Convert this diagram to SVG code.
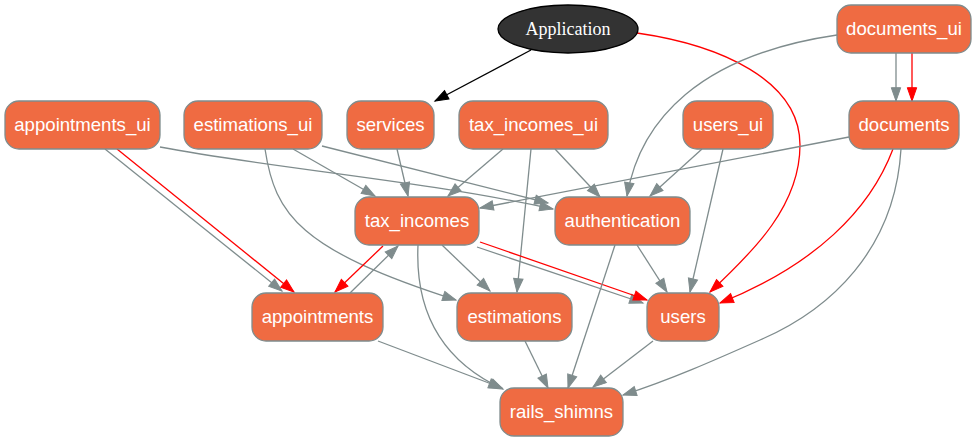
<svg xmlns="http://www.w3.org/2000/svg" width="977" height="443" viewBox="0 0 977 443">
<style>
.n rect{fill:#ef6b42;stroke:#7f8c8d;stroke-width:1.3}
.n text{font-family:"Liberation Sans",Arial,sans-serif;font-size:18.6px;fill:#ffffff;text-anchor:middle}
.e path{fill:none;stroke-width:1.3}
.g{stroke:#7f8c8d;marker-end:url(#ag)}
.r{stroke:#ff0000;marker-end:url(#ar)}
.b{stroke:#000000;marker-end:url(#ab)}
</style>
<defs>
<marker id="ag" markerUnits="userSpaceOnUse" markerWidth="16" markerHeight="12" viewBox="-1 -6 16 12" refX="13.3" refY="0" orient="auto" overflow="visible"><path d="M0,-4.7L13.3,0L0,4.7z" fill="#7f8c8d" stroke="#7f8c8d" stroke-width="1"/></marker>
<marker id="ar" markerUnits="userSpaceOnUse" markerWidth="16" markerHeight="12" viewBox="-1 -6 16 12" refX="13.3" refY="0" orient="auto" overflow="visible"><path d="M0,-4.7L13.3,0L0,4.7z" fill="#ff0000" stroke="#ff0000" stroke-width="1"/></marker>
<marker id="ab" markerUnits="userSpaceOnUse" markerWidth="16" markerHeight="12" viewBox="-1 -6 16 12" refX="13.3" refY="0" orient="auto" overflow="visible"><path d="M0,-4.7L13.3,0L0,4.7z" fill="#000000" stroke="#000000" stroke-width="1"/></marker>
</defs>
<rect width="977" height="443" fill="#ffffff"/>
<g id="edges" class="e">
<path class="b" d="M531,50L435,101"/>
<path class="r" d="M637,33C720,45 800,80 800,145C800,205 755,250 710,292"/>
<path class="g" d="M896,53L896,101"/>
<path class="r" d="M912,53L912,101"/>
<path class="g" d="M837,35C700,55 640,120 627,196"/>
<path class="g" d="M849,137L480,208"/>
<path class="r" d="M893,149C870,210 815,265 720,303"/>
<path class="g" d="M901,149C895,250 830,310 760,340C715,360 670,380 623,395"/>
<path class="g" d="M105,149L282,291"/>
<path class="r" d="M117,149L294,292"/>
<path class="g" d="M160,147C270,168 420,180 553,209"/>
<path class="g" d="M322,146L548,203"/>
<path class="g" d="M293,149L375,196"/>
<path class="g" d="M265,149C275,215 300,250 456,300"/>
<path class="g" d="M397,149L408,196"/>
<path class="g" d="M503,149L448,196"/>
<path class="g" d="M531,149L517,292"/>
<path class="g" d="M555,149L600,197"/>
<path class="g" d="M702,149L650,196"/>
<path class="g" d="M723,149L690,292"/>
<path class="r" d="M383,246L335,292"/>
<path class="g" d="M350,293L398,246"/>
<path class="g" d="M442,245L490,291"/>
<path class="g" d="M477,247L643,303"/>
<path class="r" d="M480,242L647,300"/>
<path class="g" d="M418,245C415,310 440,360 503,389"/>
<path class="g" d="M637,245L667,292"/>
<path class="g" d="M615,245L568,388"/>
<path class="g" d="M378,341L502,388"/>
<path class="g" d="M525,341L548,388"/>
<path class="g" d="M653,341L593,387"/>
</g>
<g id="Application"><ellipse cx="568" cy="29" rx="70" ry="24" fill="#333333" stroke="#000000" stroke-width="1.3"/><text x="568" y="34.5" font-family="'Liberation Serif','Times New Roman',serif" font-size="18" fill="#ffffff" text-anchor="middle">Application</text></g>
<g id="documents_ui" class="n"><rect x="837" y="5" width="134" height="48" rx="14"/><text x="904" y="35">documents_ui</text></g>
<g id="documents" class="n"><rect x="849" y="101" width="110" height="48" rx="14"/><text x="904" y="131">documents</text></g>
<g id="appointments_ui" class="n"><rect x="5" y="101" width="155" height="48" rx="14"/><text x="82.5" y="131">appointments_ui</text></g>
<g id="estimations_ui" class="n"><rect x="184" y="101" width="138" height="48" rx="14"/><text x="253" y="131">estimations_ui</text></g>
<g id="services" class="n"><rect x="347" y="101" width="87" height="48" rx="14"/><text x="390.5" y="131">services</text></g>
<g id="tax_incomes_ui" class="n"><rect x="459" y="101" width="149" height="48" rx="14"/><text x="533.5" y="131">tax_incomes_ui</text></g>
<g id="users_ui" class="n"><rect x="683" y="101" width="90" height="48" rx="14"/><text x="728" y="131">users_ui</text></g>
<g id="tax_incomes" class="n"><rect x="355" y="197" width="124" height="48" rx="14"/><text x="417" y="227">tax_incomes</text></g>
<g id="authentication" class="n"><rect x="555" y="197" width="135" height="48" rx="14"/><text x="622.5" y="227">authentication</text></g>
<g id="appointments" class="n"><rect x="252" y="293" width="131" height="48" rx="14"/><text x="317.5" y="323">appointments</text></g>
<g id="estimations" class="n"><rect x="457" y="293" width="115" height="48" rx="14"/><text x="514.5" y="323">estimations</text></g>
<g id="users" class="n"><rect x="647" y="293" width="72" height="48" rx="14"/><text x="683" y="323">users</text></g>
<g id="rails_shimns" class="n"><rect x="500" y="388" width="123" height="48" rx="14"/><text x="561.5" y="418">rails_shimns</text></g>
</svg>
